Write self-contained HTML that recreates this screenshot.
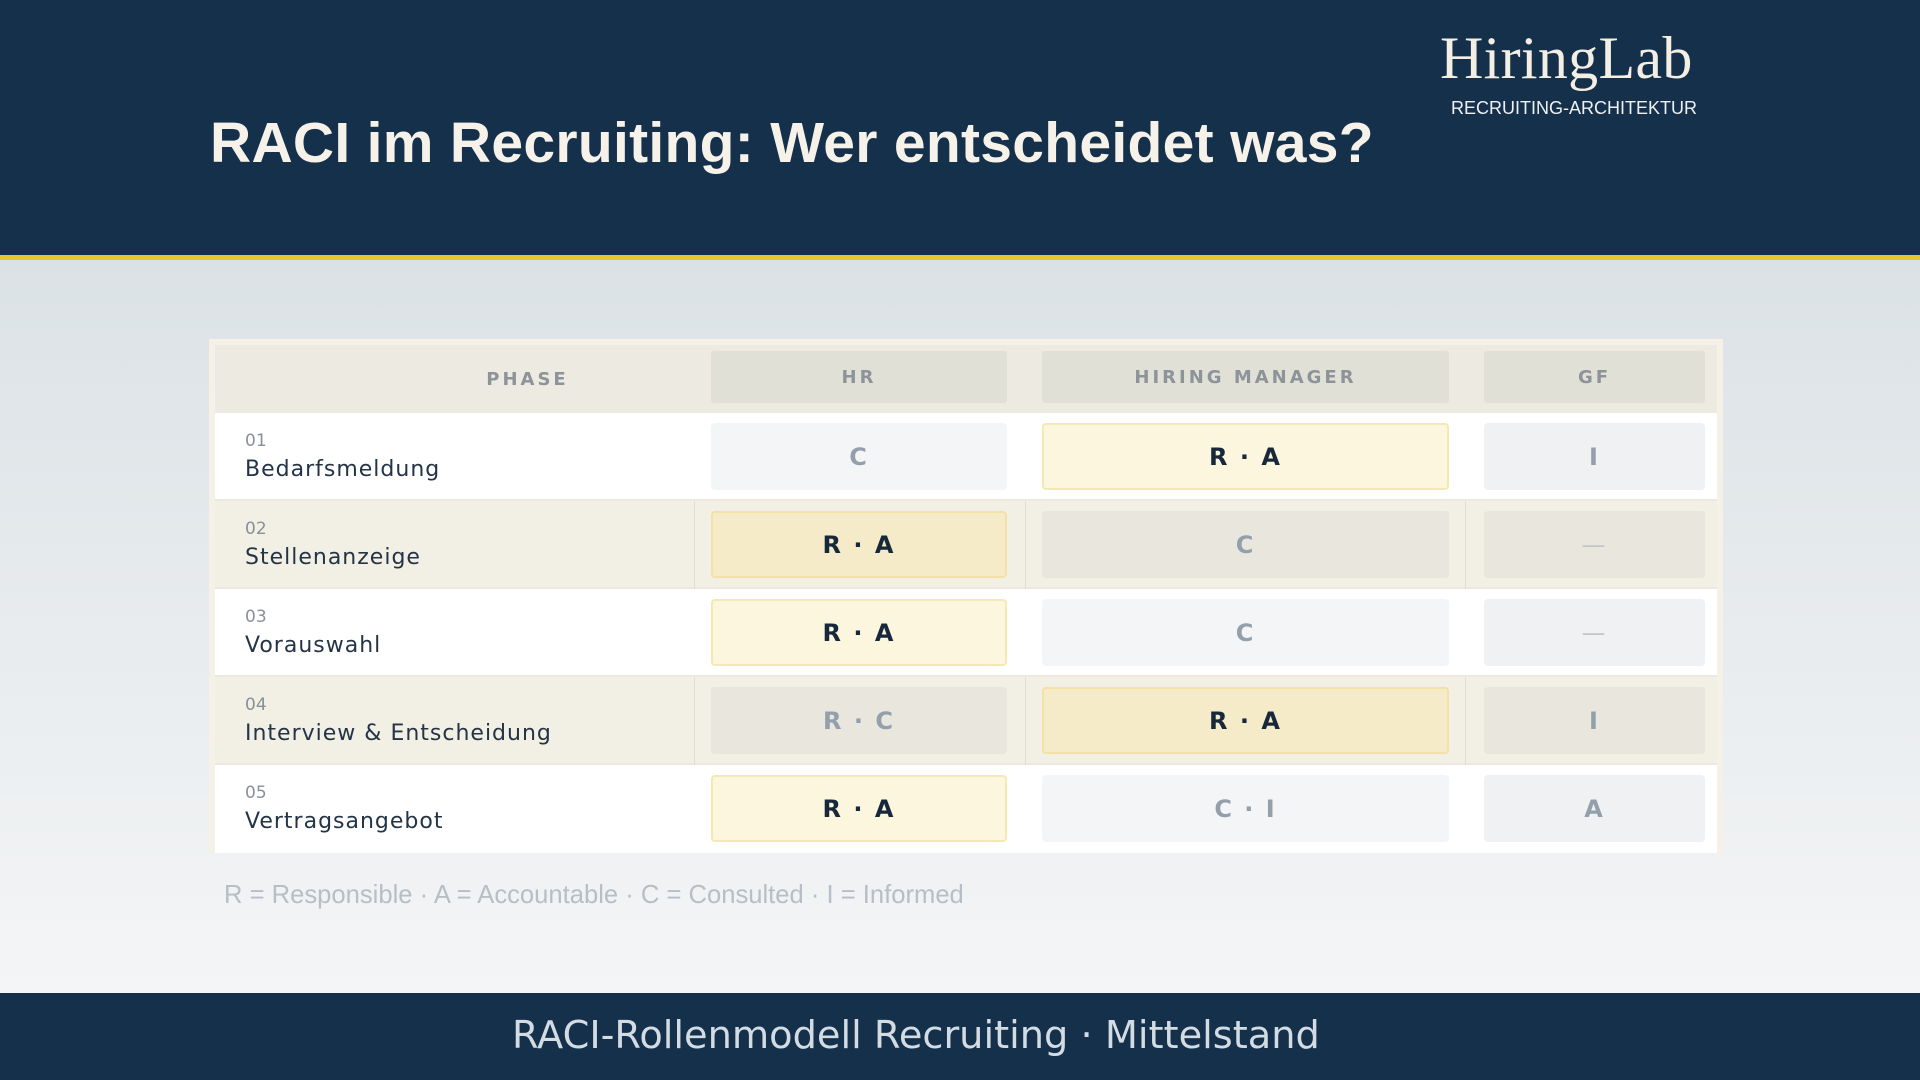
<!DOCTYPE html>
<html><head><meta charset="utf-8"><style>
*{margin:0;padding:0;box-sizing:border-box}
body{width:1920px;height:1080px;overflow:hidden;font-family:"DejaVu Sans","Liberation Sans",sans-serif;background:linear-gradient(#dbe2e6 260px,#f4f5f6 990px);position:relative}
#hdr{position:absolute;left:0;top:0;width:1920px;height:260px;background:#15304b;border-bottom:5px solid #e8c72c}
#title{position:absolute;left:210px;top:110px;font-family:"Liberation Sans",sans-serif;font-size:57px;font-weight:bold;color:#f6f2ea;letter-spacing:0.3px;white-space:nowrap}
#logo{position:absolute;left:1440px;top:24px;font-family:"Liberation Serif",serif;font-size:60px;color:#f4efe4;letter-spacing:0.3px}
#logo-sub{position:absolute;left:1451px;top:98px;font-family:"Liberation Sans",sans-serif;font-size:18px;color:#eef0f2;letter-spacing:0px}
#table{position:absolute;left:209px;top:339px;width:1514px;height:513px;background:#f5f1e6;padding:6px 6px 0 6px}
.row{position:absolute;left:6px;width:1502px}
.hcell{position:absolute;font-size:18px;font-weight:bold;color:#8c9399;letter-spacing:3px;display:flex;align-items:center;justify-content:center;border-radius:3px}
.cell{position:absolute;display:flex;align-items:center;justify-content:center;border-radius:4px;font-size:24px;font-weight:bold;letter-spacing:2px}
.vd{position:absolute;top:0;width:1px;background:#e2ddd0}
.num{position:absolute;left:30px;font-size:17px;color:#8a9098}
.nm{position:absolute;left:30px;font-size:22px;color:#243447;letter-spacing:1px}
#legend{position:absolute;left:224px;top:881px;font-family:"Liberation Sans",sans-serif;font-size:25.6px;color:#b7bec5;white-space:nowrap}
#ftr{position:absolute;left:0;top:993px;width:1920px;height:87px;background:#15304b}
#ftr-text{position:absolute;left:512px;top:1013px;font-family:"DejaVu Sans",sans-serif;font-size:38.3px;color:#d3dbe3;white-space:nowrap}
</style></head><body>
<div id="hdr"></div>
<div id="title">RACI im Recruiting: Wer entscheidet was?</div>
<div id="logo">HiringLab</div>
<div id="logo-sub">RECRUITING-ARCHITEKTUR</div>
<div id="table"></div>
<div id="legend">R = Responsible · A = Accountable · C = Consulted · I = Informed</div>
<div id="ftr"></div>
<div id="ftr-text">RACI-Rollenmodell Recruiting · Mittelstand</div>
<script>
const columns=["HR","HIRING MANAGER","GF"];
const phaseNums=["01","02","03","04","05"];
const phaseNames=["Bedarfsmeldung","Stellenanzeige","Vorauswahl","Interview & Entscheidung","Vertragsangebot"];
const hrVals=["C","R · A","R · A","R · C","R · A"];
const hmVals=["R · A","C","C","R · A","C · I"];
const gfVals=["I","—","—","I","A"];
const vals=[hrVals,hmVals,gfVals];
const t=document.getElementById('table');
const colX=[[496,296],[827,407],[1269,221]];
const divX=[479,810,1250];
const headH=68,rowH=88;
const hdr=document.createElement('div');
hdr.className='row';hdr.style.top='6px';hdr.style.height=headH+'px';hdr.style.background='#edeae1';


t.appendChild(hdr);
const ph=document.createElement('div');
ph.className='hcell';ph.style.left='0';ph.style.width='625px';ph.style.top='0';ph.style.height=headH+'px';ph.textContent='PHASE';


hdr.appendChild(ph);
columns.forEach((c,i)=>{const h=document.createElement('div');h.className='hcell';
h.style.left=colX[i][0]+'px';h.style.width=colX[i][1]+'px';h.style.top='6px';h.style.height='52px';h.style.background='#e1e0d7';h.textContent=c;


hdr.appendChild(h);});
phaseNames.forEach((n,r)=>{
 const even=r%2===1;
 const row=document.createElement('div');row.className='row';
 row.style.top=(6+headH+r*rowH)+'px';row.style.height=rowH+'px';
 row.style.background=even?'#f2efe4':'#ffffff';
 if(r<4)row.style.borderBottom='2px solid #ece8dd';
 
 
 t.appendChild(row);
 if(even){divX.forEach(x=>{const d=document.createElement('div');d.className='vd';d.style.left=x+'px';d.style.height=rowH+'px';
  
  
  row.appendChild(d);});}
 const nu=document.createElement('div');nu.className='num';nu.style.top='18px';nu.textContent=phaseNums[r];
 
 
 row.appendChild(nu);
 const nm=document.createElement('div');nm.className='nm';nm.style.top='44px';nm.textContent=n;
 
 
 row.appendChild(nm);
 vals.forEach((arr,c)=>{
  const v=arr[r];const c2=document.createElement('div');c2.className='cell';
  c2.style.left=colX[c][0]+'px';c2.style.width=colX[c][1]+'px';c2.style.top='10px';c2.style.height='67px';
  const key=v.indexOf('A')>=0&&v.indexOf('R')>=0;
  if(key){c2.style.background=even?'#f6ebc9':'#fdf6df';c2.style.border='2px solid '+(even?'#f3e1a6':'#f6e8b3');c2.style.color='#17283b';}
  else{c2.style.background=c===2&&!even?'#f0f1f3':(even?'#e8e6dd':'#f4f5f7');c2.style.color='#93a0ab';c2.style.fontWeight=v==='—'?'normal':'bold';if(v==='—')c2.style.color='#c2c6c9';}
  c2.textContent=v;
  
  
  row.appendChild(c2);
 });
});
</script>
</body></html>
